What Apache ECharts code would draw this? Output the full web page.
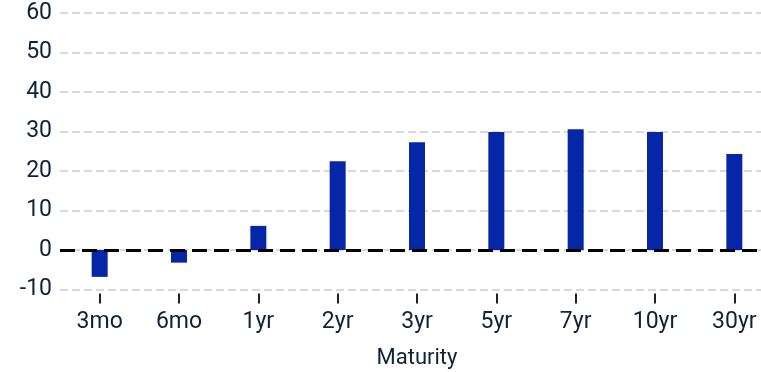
<!DOCTYPE html>
<html><head><meta charset="utf-8">
<script src="https://cdn.jsdelivr.net/npm/echarts@6/dist/echarts.min.js"></script>
<style>html,body{margin:0;padding:0;background:#fff}#c{width:761px;height:372px}</style>
</head><body><div id="c"></div>
<script>
const categories = ['3mo','6mo','1yr','2yr','3yr','5yr','7yr','10yr','30yr'];
const values = [-6.8, -3.2, 6.1, 22.5, 27.3, 29.9, 30.6, 29.9, 24.3];
const yTicks = {min: -10, max: 60, interval: 10};
const xTitle = 'Maturity';
const textColor = '#102236';
const chart = echarts.init(document.getElementById('c'));
chart.setOption({
  animation: false,
  grid: {left: 60, width: 714, top: 13, bottom: 82.5, containLabel: false, outerBoundsMode: 'none'},
  xAxis: {
    type: 'category', data: categories,
    name: xTitle, nameLocation: 'middle', nameGap: 54,
    nameTextStyle: {color: textColor, fontSize: 22, fontFamily: 'Roboto'},
    offset: 4,
    axisLine: {show: false, onZero: false},
    axisTick: {show: true, alignWithLabel: true, length: 10, lineStyle: {color: '#222', width: 2}},
    axisLabel: {color: textColor, fontSize: 23, fontFamily: 'Roboto', margin: 17}
  },
  yAxis: {
    type: 'value', min: yTicks.min, max: yTicks.max, interval: yTicks.interval,
    axisLine: {show: false}, axisTick: {show: false},
    axisLabel: {color: textColor, fontSize: 23, fontFamily: 'Roboto', margin: 8},
    splitLine: {lineStyle: {color: '#d9d9d9', width: 2, type: [8, 4]}}
  },
  series: [{
    type: 'bar', data: values, barWidth: 16,
    itemStyle: {color: '#0626a8'},
    markLine: {
      silent: true, symbol: 'none', label: {show: false},
      lineStyle: {color: '#000', width: 3, type: [15, 7]},
      data: [{yAxis: 0}]
    }
  }]
});
</script></body></html>
